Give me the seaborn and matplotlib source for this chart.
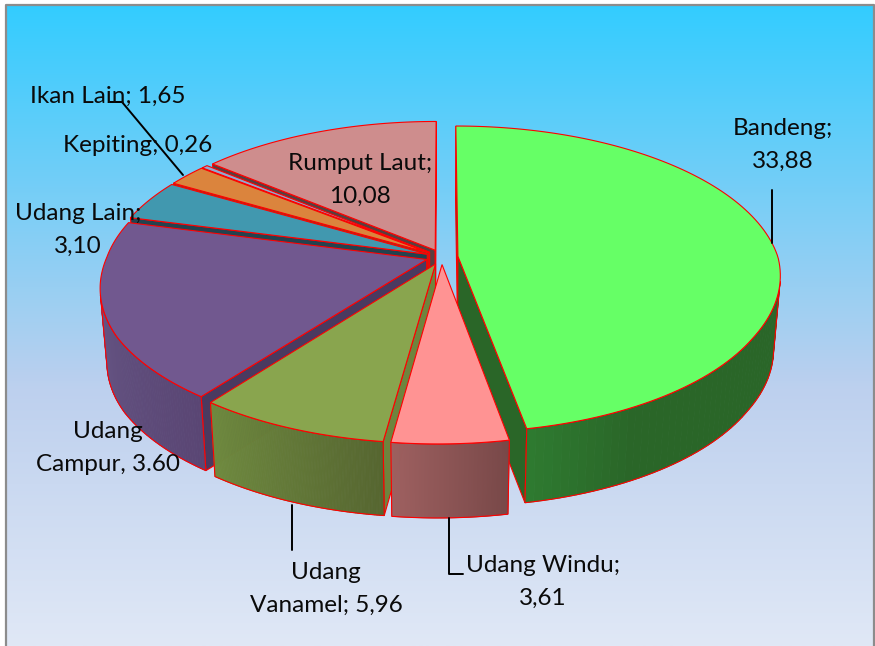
import numpy as np
import matplotlib
matplotlib.use('Agg')
import matplotlib.pyplot as plt
from matplotlib.collections import PolyCollection
from matplotlib.patches import Polygon
import seaborn as sns

categories = ['Bandeng', 'Udang Windu', 'Udang Vanamel', 'Udang Campur',
              'Udang Lain', 'Ikan Lain', 'Kepiting', 'Rumput Laut']
# the Campur label in the source says 3.60, the slice itself is drawn as 13.60
values = [33.88, 3.61, 5.96, 13.60, 3.10, 1.65, 0.26, 10.08]
labels = ['Bandeng;\n33,88', 'Udang Windu;\n3,61', 'Udang\nVanamel; 5,96',
          'Udang\nCampur, 3.60', 'Udang Lain;\n3,10', 'Ikan Lain; 1,65',
          'Kepiting; 0,26', 'Rumput Laut;\n10,08']

top_colors = ['#66FF66', '#FF9393', '#89A54E', '#71588F',
              '#4198AF', '#DB843D', '#93A9CF', '#CE8D8D']
side_colors = ['#2A6628', '#7A4848', '#6E843E', '#4A3A60',
               '#24424F', '#7A4A22', '#55617A', '#5A3E3E']
# colours along the outer wall, in clockwise order
wall_colors = [['#2A6628', '#2A6628', '#2A6628', '#2A6628', '#2E7A30'],
               ['#784848', '#9E6060'],
               ['#566630', '#6F8A3F'],
               ['#5A4674', '#655483'],
               ['#24424F'], ['#7A4A22'], ['#55617A'], ['#5A3E3E']]

label_pos = [(783, 145), (543, 582), (326, 589), (108, 448),
             (78, 230), (108, 96), (138, 146), (360, 180)]
leaders = [[(772, 190), (772, 243)],
           [(292, 505), (292, 550)],
           [(449, 518), (449, 574), (463, 574)],
           [(110, 102), (122, 102), (183, 175)]]

sns.set_theme(style='white')
plt.rcParams['font.family'] = ['Lato', 'DejaVu Sans']

# disk -> screen, with a little perspective so the front looks bigger
CX, CY = 442, 257
A, B = 320, 150
K = 0.15
DEPTH = 74
EXPLODE = 0.05
RED = '#FF0000'


def project(u, v, bottom=False):
    s = 1 / (1 - K * v)
    # front of the pie sits a few px left of the centre line
    lean = -5 * np.clip(v / 0.5, 0, 1)
    if bottom:
        return CX + lean + 0.98 * A * u * s, CY + DEPTH + B * v * s
    return CX + lean + A * u * s, CY + B * v * s


def cross(p0, p1, p2, p3):
    return (p1[0] - p0[0]) * (p3[1] - p0[1]) - (p1[1] - p0[1]) * (p3[0] - p0[0])


fig = plt.figure(figsize=(8.75, 6.46), dpi=100, facecolor='white')
ax = fig.add_axes([0, 0, 1, 1])
ax.set_xlim(0, 875)
ax.set_ylim(646, 0)
ax.axis('off')

# chart area background
bg = sns.blend_palette(['#33CCFF', '#BDD0EE', '#E0E8F6'], 3)
n_bg = 300
stops = np.interp(np.linspace(0, 1, n_bg), [0, 0.6, 1], [0, 1, 2])
grad = np.array([[np.interp(t, [0, 1, 2], [c[i] for c in bg]) for i in range(3)]
                 for t in stops]).reshape(n_bg, 1, 3)
ax.imshow(grad, extent=(6, 874, 646, 5), aspect='auto', zorder=0)
ax.set_xlim(0, 875)
ax.set_ylim(646, 0)
ax.plot([6, 6, 874, 874], [646, 5, 5, 646], color='#8C8C8C', lw=1.6, zorder=1)

fracs = np.array(values) / sum(values)
ends = np.cumsum(fracs) * 2 * np.pi
starts = ends - fracs * 2 * np.pi
mids = (starts + ends) / 2

# back slices first
for i in np.argsort(-np.cos(mids)):
    ox, oy = EXPLODE * np.sin(mids[i]), -EXPLODE * np.cos(mids[i])
    th = np.linspace(starts[i], ends[i], 120)
    us, vs = ox + np.sin(th), oy - np.cos(th)
    top = np.column_stack(project(us, vs))
    low = np.column_stack(project(us, vs, bottom=True))
    apex_t = project(ox, oy)
    apex_b = project(ox, oy, bottom=True)

    # radial walls
    wall_a = [apex_t, top[0], low[0], apex_b]
    wall_b = [apex_t, top[-1], low[-1], apex_b]
    if cross(*wall_a) < -1:
        ax.add_patch(Polygon(wall_a, fc=side_colors[i], ec=RED, lw=0.8, zorder=2))
    if cross(*wall_b) > 1:
        ax.add_patch(Polygon(wall_b, fc=side_colors[i], ec=RED, lw=0.8, zorder=2))

    # outer wall, only the part that faces us
    quads = []
    for j in range(len(th) - 1):
        q = [top[j], top[j + 1], low[j + 1], low[j]]
        if cross(q[0], q[1], q[2], q[3]) < 0:
            quads.append(q)
    if quads:
        if len(wall_colors[i]) > 1:
            pal = sns.blend_palette(wall_colors[i], len(quads))
        else:
            pal = wall_colors[i] * len(quads)
        ax.add_collection(PolyCollection(quads, facecolors=pal, edgecolors=pal,
                                         linewidths=0.6, zorder=2))
        outline = [q[0] for q in quads] + [quads[-1][1], quads[-1][2]] + \
                  [q[3] for q in quads[::-1]]
        ax.add_patch(Polygon(outline, fc='none', ec=RED, lw=0.8, zorder=2))

    # top face
    ax.add_patch(Polygon(np.vstack([apex_t, top]), fc=top_colors[i], ec=RED, lw=0.8, zorder=2))

for pts in leaders:
    xs, ys = zip(*pts)
    ax.plot(xs, ys, color='black', lw=1.4, zorder=3)

for txt, (x, y) in zip(labels, label_pos):
    ax.text(x, y, txt, ha='center', va='center', fontsize=17.5, color='#0A0A0A',
            linespacing=1.7, zorder=4)

fig.savefig('out.png', dpi=100)
